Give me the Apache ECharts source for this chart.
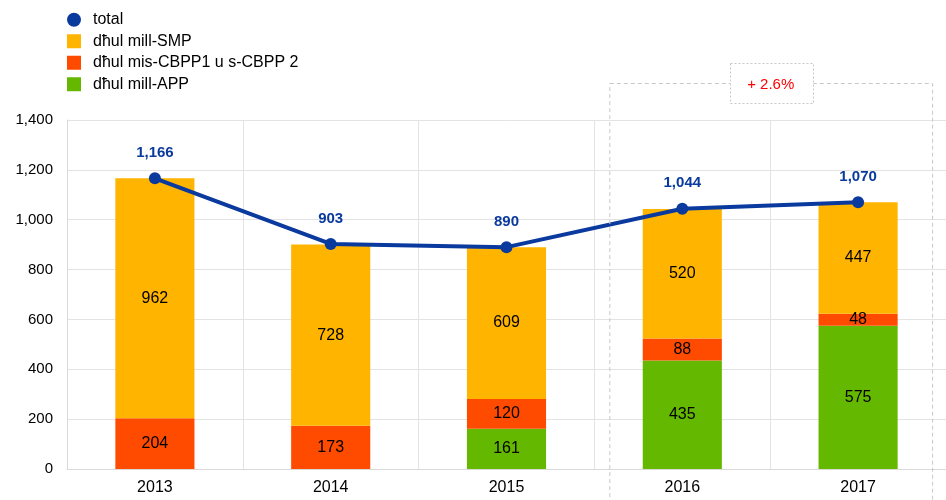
<!DOCTYPE html>
<html><head><meta charset="utf-8">
<script src="https://cdn.jsdelivr.net/npm/echarts@6/dist/echarts.min.js"></script>
<style>html,body{margin:0;padding:0;background:#fff}#c{width:946px;height:500px}</style>
</head><body><div id="c"></div>
<script>
const years = ['2013','2014','2015','2016','2017'];
const smp = [962, 728, 609, 520, 447];
const cbpp = [204, 173, 120, 88, 48];
const app = [null, null, 161, 435, 575];
const total = [1166, 903, 890, 1044, 1070];
const growthLabel = '+ 2.6%';

const font = 'Liberation Sans, Arial, sans-serif';
const chart = echarts.init(document.getElementById('c'));
const barLabel = {show: true, position: 'inside', color: '#000', fontSize: 16, fontFamily: font};
chart.setOption({
  animation: false,
  backgroundColor: '#fff',
  textStyle: {fontFamily: font},
  legend: {
    orient: 'vertical', left: 62, top: 6, itemGap: 4, itemWidth: 14, itemHeight: 14,
    textStyle: {fontSize: 16, color: '#000', fontFamily: font, padding: [0, 0, 0, 7], lineHeight: 17.5},
    data: [
      {name: 'total', icon: 'circle'},
      {name: 'dħul mill-SMP', icon: 'rect'},
      {name: 'dħul mis-CBPP1 u s-CBPP 2', icon: 'rect'},
      {name: 'dħul mill-APP', icon: 'rect'}
    ]
  },
  grid: {left: 67, right: 0, top: 120, bottom: 31},
  xAxis: {
    type: 'category', data: years, boundaryGap: true,
    axisLine: {lineStyle: {color: '#d9d9d9'}}, axisTick: {show: false},
    axisLabel: {color: '#000', fontSize: 16, margin: 11},
    splitLine: {show: true, lineStyle: {color: '#e3e3e3'}}
  },
  yAxis: {
    type: 'value', min: 0, max: 1400, interval: 200,
    axisLine: {show: true, lineStyle: {color: '#d9d9d9'}}, axisTick: {show: false},
    axisLabel: {color: '#000', fontSize: 15, margin: 14,
      formatter: v => v.toLocaleString('en-US')},
    splitLine: {lineStyle: {color: '#e3e3e3'}}
  },
  series: [
    {name: 'dħul mill-APP', type: 'bar', stack: 's', data: app, barWidth: '45%',
      itemStyle: {color: '#65b800'}, label: barLabel},
    {name: 'dħul mis-CBPP1 u s-CBPP 2', type: 'bar', stack: 's', data: cbpp,
      itemStyle: {color: '#ff4b00'}, label: barLabel},
    {name: 'dħul mill-SMP', type: 'bar', stack: 's', data: smp,
      itemStyle: {color: '#ffb400'}, label: barLabel},
    {name: 'total', type: 'line', data: total, symbol: 'circle', symbolSize: 12,
      z: 10,
      lineStyle: {color: '#0a3a9e', width: 4}, itemStyle: {color: '#0a3a9e'},
      label: {show: true, position: 'top', distance: 12, color: '#0a3a9e', fontWeight: 'bold',
        fontSize: 15, formatter: p => p.value.toLocaleString('en-US')}}
  ]
});
// annotation box around 2016-2017
const x16 = chart.convertToPixel({xAxisIndex: 0}, '2016');
const x17 = chart.convertToPixel({xAxisIndex: 0}, '2017');
const bx0 = x16 - 73, bx1 = x17 + 74;
const cx = (bx0 + bx1) / 2;
chart.setOption({
  graphic: [
    {type: 'rect', shape: {x: bx0 + 0.5, y: 83.5, width: bx1 - bx0, height: 430},
      style: {fill: 'none', stroke: '#c8c8c8', lineWidth: 1, lineDash: [4, 3]}, z: 20},
    {type: 'rect', shape: {x: Math.round(cx - 41) + 0.5, y: 63.5, width: 83, height: 40},
      style: {fill: '#fff', stroke: '#c8c8c8', lineWidth: 1, lineDash: [2, 2]}, z: 21},
    {type: 'text', x: cx, y: 85, z: 22,
      style: {text: growthLabel, fill: '#ff0000', fontSize: 15, fontFamily: font,
        align: 'center', verticalAlign: 'middle'}}
  ]
});
</script></body></html>
